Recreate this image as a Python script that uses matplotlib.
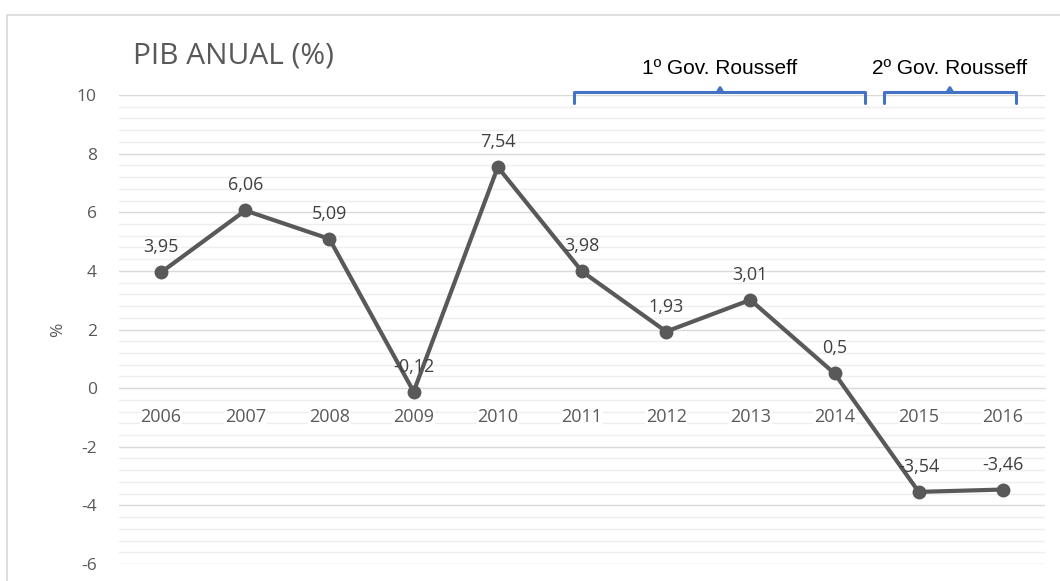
import matplotlib.pyplot as plt
from matplotlib.lines import Line2D
from matplotlib.ticker import MultipleLocator

years = ['2006', '2007', '2008', '2009', '2010', '2011',
         '2012', '2013', '2014', '2015', '2016']
pib = [3.95, 6.06, 5.09, -0.12, 7.54, 3.98, 1.93, 3.01, 0.5, -3.54, -3.46]
pib_labels = ['3,95', '6,06', '5,09', '-0,12', '7,54', '3,98',
              '1,93', '3,01', '0,5', '-3,54', '-3,46']
gov_names = ['1º Gov. Rousseff', '2º Gov. Rousseff']

grey = '#595959'
blue = '#4472C4'
W, H = 1060, 581

plt.rcParams['font.family'] = ['Open Sans', 'DejaVu Sans']
plt.rcParams['axes.unicode_minus'] = False
fig = plt.figure(figsize=(W / 100, H / 100), dpi=100)
ax = fig.add_axes([119 / W, 1 - 564 / H, (1045 - 119) / W, (564 - 95) / H])

x = list(range(len(years)))
ax.plot(x, pib, color=grey, lw=3, marker='o', ms=9, solid_capstyle='round', zorder=3)
for xi, yi, lab in zip(x, pib, pib_labels):
    ax.annotate(lab, (xi, yi), xytext=(0, 18), textcoords='offset points',
                ha='center', va='center', fontsize=13, color='#404040', zorder=4)

ax.set_xlim(-0.5, len(years) - 0.5)
ax.set_ylim(-6, 10)
ax.yaxis.set_major_locator(MultipleLocator(2))
ax.yaxis.set_minor_locator(MultipleLocator(0.4))
ax.grid(which='major', axis='y', color='#d9d9d9', lw=1)
ax.grid(which='minor', axis='y', color='#eeeeee', lw=1)
ax.set_axisbelow(True)
ax.xaxis.set_zorder(0.7)

ax.set_xticks(x)
ax.set_xticklabels(years)
for s in ['top', 'right', 'left']:
    ax.spines[s].set_visible(False)
ax.spines['bottom'].set_position(('data', 0))
ax.spines['bottom'].set_color('#d9d9d9')
ax.tick_params(axis='x', length=0, pad=14, labelsize=13, labelcolor=grey)
ax.tick_params(axis='y', which='both', length=0, pad=16, labelsize=12.5, labelcolor=grey)
for t in ax.get_xticklabels():
    t.set_bbox(dict(facecolor='white', edgecolor='none', pad=0.5))
ax.set_ylabel('%', fontsize=12.5, color=grey, labelpad=8)

fig.text(133 / W, 1 - 56 / H, 'PIB ANUAL (%)', fontsize=21.5, color=grey,
         ha='left', va='center')

# braces over the government periods
braces = [(4.91, 6.64, 8.36), (8.59, 9.37, 10.15)]
for (x0, xm, x1), name in zip(braces, gov_names):
    ax.plot([x0, x0, x1, x1], [9.72, 10.1, 10.1, 9.72], color=blue, lw=2.2,
            clip_on=False, solid_joinstyle='round', solid_capstyle='round')
    ax.plot([xm - 0.03, xm, xm + 0.03], [10.1, 10.25, 10.1], color=blue, lw=2.2,
            clip_on=False)
    ax.text(xm, 10.9, name, ha='center', va='center', fontsize=15,
            family='Liberation Sans', color='black')

# chart border
fig.add_artist(Line2D([7 / W, 7 / W, 1], [0, 1 - 15 / H, 1 - 15 / H],
                      color='#d9d9d9', lw=1.2, transform=fig.transFigure))

fig.savefig('out.png', dpi=100)
